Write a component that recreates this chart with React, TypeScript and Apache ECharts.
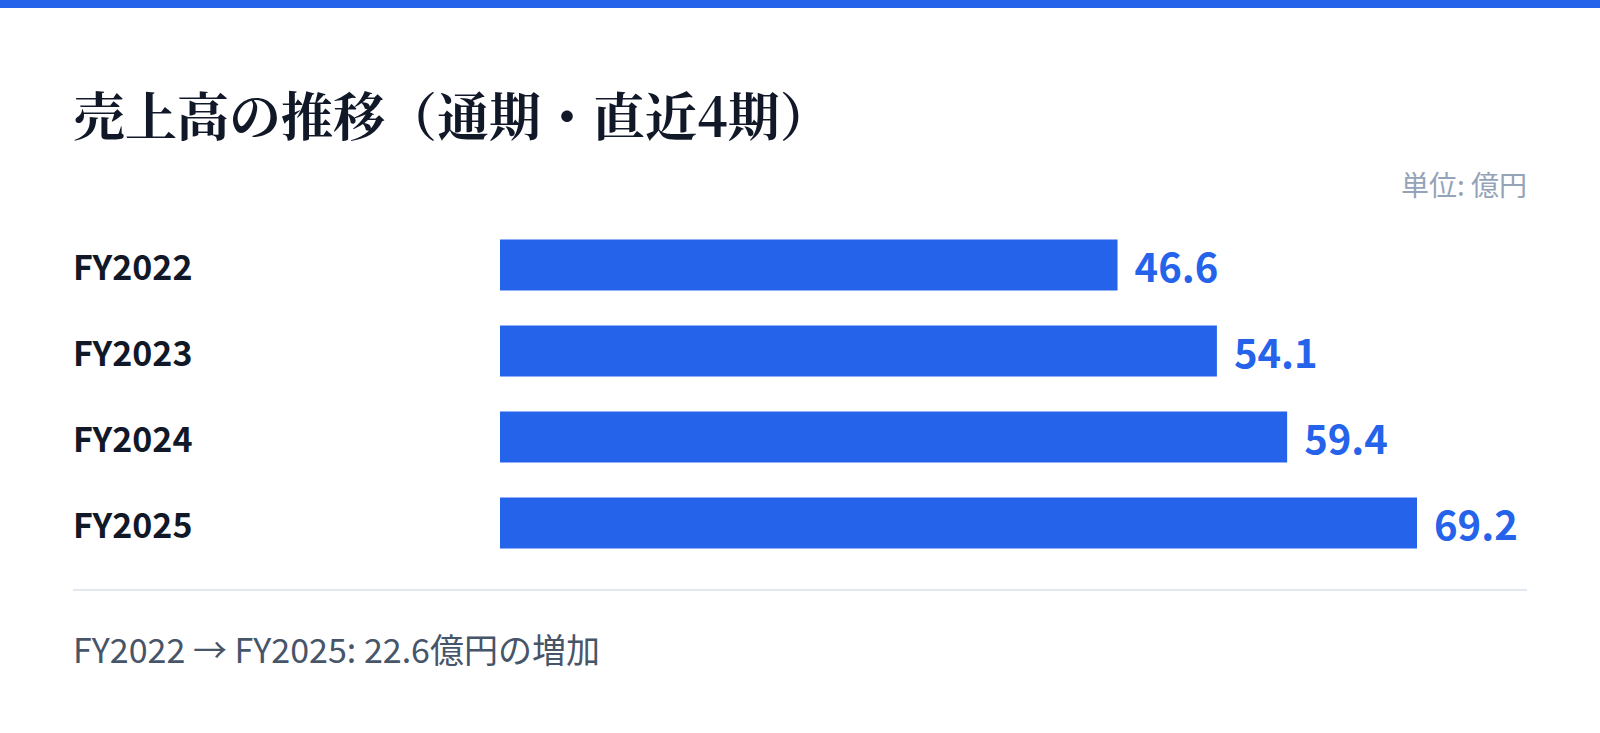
import {useEffect, useRef} from 'react';
import * as echarts from 'echarts';

const categories = ['FY2022', 'FY2023', 'FY2024', 'FY2025'];
const sales = [46.6, 54.1, 59.4, 69.2];

const titleText = '売上高の推移（通期・直近4期）';
const unitText = '単位: 億円';
const footerText = 'FY2022 → FY2025: 22.6億円の増加';

const BLUE = '#2563eb';
const SANS = '"Noto Sans CJK JP", "Noto Sans", sans-serif';
const SERIF = '"Noto Serif CJK JP", "Noto Serif JP", "Liberation Serif", serif';

export default function App() {
    const ref = useRef<HTMLDivElement | null>(null);

    useEffect(() => {
        document.body.style.margin = '0';
        if (!ref.current) return;
        const chart = echarts.init(ref.current, null, {renderer: 'svg'});

        chart.setOption({
            animation: false,
            backgroundColor: '#ffffff',
            grid: {left: 500, right: 73, top: 222, bottom: 167},
            xAxis: {
                type: 'value',
                min: 0,
                max: 77.5,
                show: false
            },
            yAxis: {
                type: 'category',
                data: categories,
                inverse: true,
                axisLine: {show: false},
                axisTick: {show: false},
                splitLine: {show: false},
                axisLabel: {
                    align: 'left',
                    margin: 427,
                    color: '#111827',
                    fontFamily: SANS,
                    fontWeight: 'bold',
                    fontSize: 34
                }
            },
            series: [
                {
                    type: 'bar',
                    data: sales,
                    barWidth: 51,
                    itemStyle: {color: BLUE},
                    label: {
                        show: true,
                        position: 'right',
                        distance: 17,
                        color: BLUE,
                        fontFamily: SANS,
                        fontWeight: 'bold',
                        fontSize: 40,
                        formatter: (p: any) => p.value.toFixed(1)
                    }
                }
            ],
            graphic: [
                {type: 'rect', shape: {x: 0, y: 0, width: 1600, height: 8}, style: {fill: BLUE}},
                {
                    type: 'text',
                    x: 73,
                    y: 113,
                    style: {
                        text: titleText,
                        fill: '#111827',
                        font: `bold 52px ${SERIF}`,
                        textAlign: 'left',
                        textVerticalAlign: 'middle'
                    }
                },
                {
                    type: 'text',
                    x: 1527,
                    y: 184,
                    style: {
                        text: unitText,
                        fill: '#94a3b8',
                        font: `28px ${SANS}`,
                        textAlign: 'right',
                        textVerticalAlign: 'middle'
                    }
                },
                {
                    type: 'line',
                    shape: {x1: 73, y1: 590, x2: 1527, y2: 590},
                    style: {stroke: '#e2e8f0', lineWidth: 2}
                },
                {
                    type: 'text',
                    x: 73,
                    y: 648,
                    style: {
                        text: footerText,
                        fill: '#475569',
                        font: `34px ${SANS}`,
                        textAlign: 'left',
                        textVerticalAlign: 'middle'
                    }
                }
            ]
        });

        return () => chart.dispose();
    }, []);

    return <div ref={ref} style={{width: 1600, height: 733}}/>;
}
